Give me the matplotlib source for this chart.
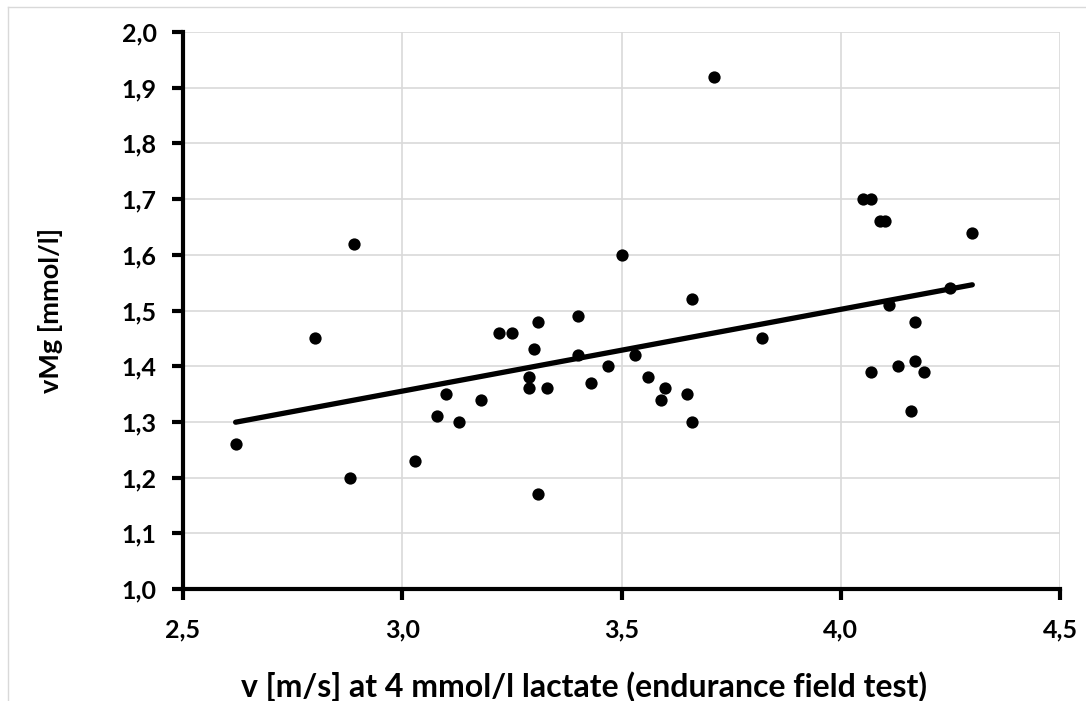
import numpy as np
import matplotlib
matplotlib.use('Agg')
import matplotlib.pyplot as plt
from matplotlib.ticker import FuncFormatter, MultipleLocator
from matplotlib.lines import Line2D

# v at 4 mmol/l lactate [m/s] and vMg [mmol/l]
v_speed = [2.62, 2.80, 2.88, 2.89, 3.03, 3.08, 3.10, 3.13, 3.18, 3.22, 3.25,
           3.29, 3.29, 3.30, 3.31, 3.31, 3.33, 3.40, 3.40, 3.43, 3.47, 3.50,
           3.53, 3.56, 3.59, 3.60, 3.65, 3.66, 3.66, 3.71, 3.82, 4.05, 4.07,
           4.09, 4.10, 4.11, 4.25, 4.30, 4.17, 4.07, 4.13, 4.17, 4.19, 4.16]
v_mg = [1.26, 1.45, 1.20, 1.62, 1.23, 1.31, 1.35, 1.30, 1.34, 1.46, 1.46,
        1.38, 1.36, 1.43, 1.48, 1.17, 1.36, 1.49, 1.42, 1.37, 1.40, 1.60,
        1.42, 1.38, 1.34, 1.36, 1.35, 1.30, 1.52, 1.92, 1.45, 1.70, 1.70,
        1.66, 1.66, 1.51, 1.54, 1.64, 1.48, 1.39, 1.40, 1.41, 1.39, 1.32]

x = np.array(v_speed)
y = np.array(v_mg)
k, d = np.polyfit(x, y, 1)
xs = np.array([x.min(), x.max()])

plt.rcParams['font.family'] = ['Lato', 'DejaVu Sans']
plt.rcParams['font.weight'] = 'bold'

fig = plt.figure(figsize=(10.86, 7.01), dpi=100)
ax = fig.add_axes([183/1086, 1-589/701, (1060-183)/1086, (589-32)/701])

ax.grid(True, color='#d9d9d9', lw=1.2, zorder=0)
ax.scatter(x, y, s=78, color='black', zorder=3, linewidths=0)
ax.plot(xs, k*xs+d, color='black', lw=3.8, zorder=4, solid_capstyle='round')

ax.set_xlim(2.5, 4.5)
ax.set_ylim(1.0, 2.0)
ax.xaxis.set_major_locator(MultipleLocator(0.5))
ax.yaxis.set_major_locator(MultipleLocator(0.1))
fmt = FuncFormatter(lambda v, p: f'{v:.1f}'.replace('.', ','))
ax.xaxis.set_major_formatter(fmt)
ax.yaxis.set_major_formatter(fmt)

for s in ['top', 'right']:
    ax.spines[s].set_visible(False)
for s in ['left', 'bottom']:
    ax.spines[s].set_linewidth(3)
    ax.spines[s].set_zorder(5)
ax.tick_params(direction='out', length=8, width=3, labelsize=18)
ax.xaxis.set_tick_params(pad=13)
ax.yaxis.set_tick_params(pad=11)
for lab in ax.get_xticklabels() + ax.get_yticklabels():
    lab.set_fontweight('bold')

ax.set_xlabel('v [m/s] at 4 mmol/l lactate (endurance field test)',
              fontsize=23, fontweight='bold', va='center')
ax.set_ylabel('vMg [mmol/l]', fontsize=19.5, fontweight='bold', va='center')
ax.xaxis.set_label_coords(0.457, -0.175)
ax.yaxis.set_label_coords(-0.151, 0.5)

# thin frame around the chart area
fig.add_artist(Line2D([8/1086, 8/1086], [0, 1-7/701], color='#d9d9d9', lw=1))
fig.add_artist(Line2D([8/1086, 1], [1-7/701, 1-7/701], color='#d9d9d9', lw=1))

fig.savefig('out.png', dpi=100)
